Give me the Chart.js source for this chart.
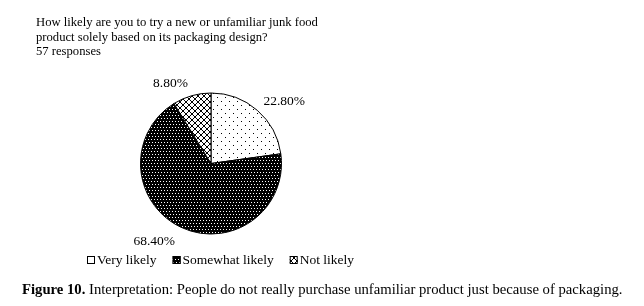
<!DOCTYPE html>
<html>
<head>
<meta charset="utf-8">
<script src="https://cdn.jsdelivr.net/npm/chart.js@4/dist/chart.umd.min.js"></script>
<style>
  html, body { margin: 0; padding: 0; background: #fff; }
  #wrap { position: relative; width: 644px; height: 306px; overflow: hidden; font-family: "Liberation Serif", "Times New Roman", serif; color: #000; }
  #title { position: absolute; left: 36px; top: 15px; font-size: 12.65px; line-height: 14.5px; }
  #caption { position: absolute; left: 22px; top: 281px; font-size: 14.7px; white-space: nowrap; }
  canvas { position: absolute; left: 0; top: 0; }
</style>
</head>
<body>
<div id="wrap">
  <canvas id="c" width="644" height="306"></canvas>
  <div id="title">How likely are you to try a new or unfamiliar junk food<br>product solely based on its packaging design?<br>57 responses</div>
  <div id="caption"><b>Figure 10.</b> Interpretation: People do not really purchase unfamiliar product just because of packaging.</div>
</div>
<script>
const categories = ["Very likely", "Somewhat likely", "Not likely"];
const values = [22.8, 68.4, 8.8];
const valueLabels = ["22.80%", "68.40%", "8.80%"];

function makePattern(kind) {
  const c = document.createElement('canvas');
  const ctx = c.getContext('2d');
  if (kind === 'sparse') {
    c.width = 8; c.height = 8;
    ctx.fillStyle = '#fff'; ctx.fillRect(0, 0, 8, 8);
    ctx.fillStyle = '#000';
    ctx.fillRect(1, 1, 1, 1); ctx.fillRect(5, 5, 1, 1);
  } else if (kind === 'dense') {
    c.width = 6; c.height = 6;
    ctx.fillStyle = '#000'; ctx.fillRect(0, 0, 6, 6);
    ctx.fillStyle = '#fff';
    ctx.fillRect(1, 1, 1, 1); ctx.fillRect(4, 1, 1, 1);
    ctx.fillRect(2, 4, 1, 1); ctx.fillRect(5, 4, 1, 1);
  } else {
    c.width = 6; c.height = 6;
    ctx.fillStyle = '#fff'; ctx.fillRect(0, 0, 6, 6);
    ctx.fillStyle = '#000';
    for (let i = 0; i < 6; i++) {
      ctx.fillRect(i, i, 1, 1);
      ctx.fillRect(5 - i, i, 1, 1);
    }
  }
  return document.getElementById('c').getContext('2d').createPattern(c, 'repeat');
}
const patterns = [makePattern('sparse'), makePattern('dense'), makePattern('cross')];

const labelPlugin = {
  id: 'labels',
  afterDatasetsDraw(chart) {
    const ctx = chart.ctx;
    const meta = chart.getDatasetMeta(0);
    ctx.save();
    ctx.font = '13.5px "Liberation Serif", serif';
    ctx.fillStyle = '#000';
    ctx.textBaseline = 'middle';
    meta.data.forEach((arc, i) => {
      const p = arc.getProps(['x', 'y', 'startAngle', 'endAngle', 'outerRadius'], true);
      const mid = (p.startAngle + p.endAngle) / 2;
      const r = p.outerRadius + 14;
      const x = p.x + Math.cos(mid) * r;
      const y = p.y + Math.sin(mid) * r;
      ctx.textAlign = Math.cos(mid) >= 0 ? 'left' : 'right';
      ctx.fillText(valueLabels[i], x - (Math.cos(mid) >= 0 ? 3 : 0), y + 1.5);
    });
    // legend
    ctx.textAlign = 'left';
    const ly = 260;
    let lx = 87;
    const gaps = [16, 16, 0];
    categories.forEach((name, i) => {
      ctx.fillStyle = i === 0 ? '#fff' : patterns[i];
      ctx.fillRect(lx, ly - 4, 8, 8);
      ctx.strokeStyle = '#000';
      ctx.lineWidth = 1;
      ctx.strokeRect(lx + 0.5, ly - 3.5, 7, 7);
      ctx.fillStyle = '#000';
      ctx.fillText(name, lx + 10, ly + 0.5);
      lx += 10 + ctx.measureText(name).width + gaps[i];
    });
    ctx.restore();
  }
};

new Chart(document.getElementById('c'), {
  type: 'pie',
  data: {
    labels: categories,
    datasets: [{
      data: values,
      backgroundColor: patterns,
      borderColor: '#000',
      borderWidth: 1
    }]
  },
  options: {
    responsive: false,
    animation: false,
    layout: { padding: { left: 140, right: 362, top: 92, bottom: 71 } },
    plugins: { legend: { display: false }, tooltip: { enabled: false } }
  },
  plugins: [labelPlugin]
});
</script>
</body>
</html>
